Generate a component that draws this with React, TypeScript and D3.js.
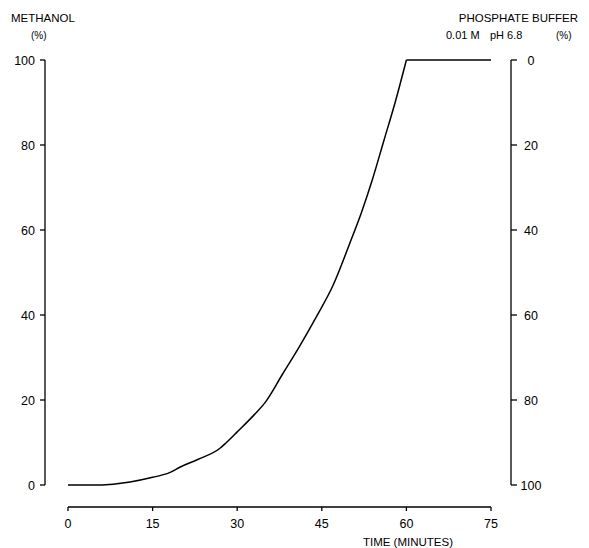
import React from "react";
import { scaleLinear, line, curveMonotoneX } from "d3";

// gradient profile
const timeMin = [0, 4, 8, 11, 15, 18, 20, 23, 27, 28, 30, 33, 35, 38, 41, 44, 47, 50, 52, 54, 56, 58, 60, 75];
const methanolPct = [0, 0, 0.2, 0.7, 1.8, 2.9, 4.3, 6, 8.7, 9.9, 12.5, 16.5, 19.5, 26, 32.5, 39.5, 47, 57, 64, 72, 81, 90, 100, 100];

const xTicks = [0, 15, 30, 45, 60, 75];
const leftTicks = [0, 20, 40, 60, 80, 100];
const rightTicks = [0, 20, 40, 60, 80, 100];

const W = 589;
const H = 548;
const font = "'Liberation Sans', Arial, sans-serif";

const App = () => {
  const x = scaleLinear().domain([0, 75]).range([68, 491]);
  const y = scaleLinear().domain([0, 100]).range([485, 60]);
  const yRight = scaleLinear().domain([0, 100]).range([60, 485]);

  const pts = timeMin.map((t, i) => [t, methanolPct[i]] as [number, number]);
  // rising part is smooth, the hold after 60 min is straight
  const rise = pts.filter((d) => d[0] <= 60);
  const hold = pts.filter((d) => d[0] >= 60);
  const smooth = line<[number, number]>()
    .x((d) => x(d[0]))
    .y((d) => y(d[1]))
    .curve(curveMonotoneX);
  const straight = line<[number, number]>()
    .x((d) => x(d[0]))
    .y((d) => y(d[1]));

  const leftX = 45;
  const rightX = 511;
  const axisY = 507;

  return (
    <svg
      width={W}
      height={H}
      style={{ position: "absolute", left: 0, top: 0, background: "#fff" }}
      fontFamily={font}
      fontSize={12.5}
    >
      {/* titles */}
      <text x={11} y={22} fontSize={11.5}>METHANOL</text>
      <text x={31} y={39} fontSize={10}>(%)</text>
      <text x={578} y={22} fontSize={11.5} textAnchor="end">PHOSPHATE BUFFER</text>
      <text x={446} y={39} fontSize={11}>0.01 M</text>
      <text x={490} y={39} fontSize={11}>pH 6.8</text>
      <text x={556} y={39} fontSize={10}>(%)</text>

      {/* left axis */}
      <line x1={leftX} x2={leftX} y1={y(100)} y2={y(0)} stroke="#000" strokeWidth={1.3} />
      {leftTicks.map((v) => (
        <g key={"l" + v}>
          <line x1={leftX - 5} x2={leftX} y1={y(v)} y2={y(v)} stroke="#000" strokeWidth={1.3} />
          <text x={35} y={y(v) + 4.5} textAnchor="end">{v}</text>
        </g>
      ))}

      {/* right axis */}
      <line x1={rightX} x2={rightX} y1={yRight(0)} y2={yRight(100)} stroke="#000" strokeWidth={1.3} />
      {rightTicks.map((v) => (
        <g key={"r" + v}>
          <line x1={rightX} x2={rightX + 6} y1={yRight(v)} y2={yRight(v)} stroke="#000" strokeWidth={1.3} />
          <text x={531} y={yRight(v) + 4.5} textAnchor="middle">{v}</text>
        </g>
      ))}

      {/* x axis */}
      <line x1={x(0)} x2={x(75)} y1={axisY} y2={axisY} stroke="#000" strokeWidth={1.3} />
      {xTicks.map((t) => (
        <g key={"x" + t}>
          <line x1={x(t)} x2={x(t)} y1={axisY} y2={axisY + 4} stroke="#000" strokeWidth={1.3} />
          <text x={x(t)} y={528} textAnchor="middle">{t}</text>
        </g>
      ))}
      <text x={408} y={546} textAnchor="middle" fontSize={11.5}>TIME (MINUTES)</text>

      {/* gradient curve */}
      <path d={smooth(rise) || ""} fill="none" stroke="#000" strokeWidth={1.5} />
      <path d={straight(hold) || ""} fill="none" stroke="#000" strokeWidth={1.5} />
    </svg>
  );
};

export default App;
